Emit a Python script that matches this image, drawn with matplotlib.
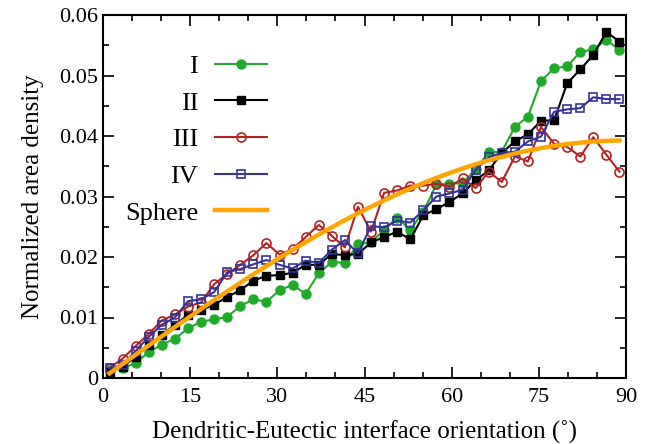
import matplotlib
matplotlib.use("Agg")
import matplotlib.pyplot as plt
from matplotlib.ticker import MultipleLocator, FuncFormatter

plt.rcParams['font.family'] = ['Liberation Serif', 'DejaVu Serif']
plt.rcParams['mathtext.fontset'] = 'stix'

# bin centres (degrees), 40 bins of 2.25 deg
theta = [1.125 + 2.25 * k for k in range(40)]

series_I = [0.0013, 0.0016, 0.0025, 0.0043, 0.0055, 0.0065, 0.0082, 0.0093, 0.0097, 0.0101,
            0.0119, 0.0130, 0.0126, 0.0145, 0.0154, 0.0139, 0.0173, 0.0192, 0.0190, 0.0221,
            0.0224, 0.0245, 0.0265, 0.0245, 0.0275, 0.0320, 0.0321, 0.0322, 0.0345, 0.0373,
            0.0374, 0.0415, 0.0432, 0.0491, 0.0512, 0.0515, 0.0539, 0.0543, 0.0559, 0.0542]
series_II = [0.0010, 0.0019, 0.0035, 0.0055, 0.0071, 0.0088, 0.0104, 0.0112, 0.0121, 0.0134,
             0.0145, 0.0161, 0.0169, 0.0170, 0.0174, 0.0187, 0.0187, 0.0205, 0.0203, 0.0205,
             0.0224, 0.0233, 0.0242, 0.0229, 0.0269, 0.0279, 0.0291, 0.0305, 0.0327, 0.0343,
             0.0372, 0.0391, 0.0403, 0.0425, 0.0426, 0.0487, 0.0510, 0.0534, 0.0572, 0.0556]
series_III = [0.0017, 0.0032, 0.0053, 0.0073, 0.0095, 0.0105, 0.0118, 0.0125, 0.0155, 0.0172,
              0.0187, 0.0203, 0.0223, 0.0204, 0.0213, 0.0233, 0.0253, 0.0235, 0.0216, 0.0283,
              0.0242, 0.0306, 0.0310, 0.0318, 0.0318, 0.0321, 0.0316, 0.0330, 0.0314, 0.0341,
              0.0324, 0.0366, 0.0358, 0.0415, 0.0387, 0.0382, 0.0366, 0.0398, 0.0369, 0.0341]
series_IV = [0.0016, 0.0022, 0.0045, 0.0068, 0.0088, 0.0100, 0.0127, 0.0130, 0.0142, 0.0175,
             0.0180, 0.0188, 0.0195, 0.0187, 0.0181, 0.0194, 0.0190, 0.0212, 0.0228, 0.0206,
             0.0251, 0.0249, 0.0260, 0.0257, 0.0277, 0.0300, 0.0305, 0.0311, 0.0344, 0.0365,
             0.0372, 0.0374, 0.0391, 0.0399, 0.0440, 0.0444, 0.0446, 0.0464, 0.0461, 0.0461]
sphere = [0.00077, 0.00231, 0.00385, 0.00538, 0.00690, 0.00842, 0.00992, 0.01140, 0.01287, 0.01431,
          0.01574, 0.01714, 0.01851, 0.01986, 0.02117, 0.02245, 0.02370, 0.02491, 0.02609, 0.02722,
          0.02831, 0.02935, 0.03036, 0.03131, 0.03222, 0.03307, 0.03388, 0.03463, 0.03533, 0.03598,
          0.03657, 0.03710, 0.03758, 0.03800, 0.03836, 0.03866, 0.03890, 0.03908, 0.03920, 0.03926]

labels = ["I", "II", "III", "IV", "Sphere"]

fig = plt.figure(figsize=(6.52, 4.44), dpi=100)
ax = fig.add_axes([103/652, 1 - 378/444, 523/652, 363/444])

ax.plot(theta, series_I, color='#1faa2a', lw=1.5, marker='o', ms=6.5, label=labels[0])
ax.plot(theta, series_II, color='black', lw=1.5, marker='s', ms=6.2, label=labels[1])
ax.plot(theta, series_III, color='#b22222', lw=1.5, marker='o', ms=6.5, mfc='none', mew=1.2, label=labels[2])
ax.plot(theta, series_IV, color='#333399', lw=1.5, marker='s', ms=6.0, mfc='none', mew=1.2, label=labels[3])
ax.plot(theta, sphere, color='#ffa500', lw=3.2, label=labels[4])

ax.set_xlim(0, 90)
ax.set_ylim(0, 0.06)
ax.xaxis.set_major_locator(MultipleLocator(15))
ax.xaxis.set_minor_locator(MultipleLocator(5))
ax.yaxis.set_major_locator(MultipleLocator(0.01))
ax.yaxis.set_minor_locator(MultipleLocator(0.005))
ax.yaxis.set_major_formatter(FuncFormatter(lambda v, p: '0' if abs(v) < 1e-12 else f'{v:.2f}'))
ax.xaxis.set_major_formatter(FuncFormatter(lambda v, p: f'{v:g}'))
ax.tick_params(which='both', direction='in', top=True, right=True, width=1.2, labelsize=16)
ax.tick_params(which='major', length=8)
ax.tick_params(which='minor', length=4.5)
ax.tick_params(axis='x', pad=7)
for s in ax.spines.values():
    s.set_linewidth(1.5)

ax.set_xlabel('Dendritic-Eutectic interface orientation (˚)', fontsize=18, labelpad=10)
ax.set_ylabel('Normalized area density', fontsize=18, labelpad=11)

leg = ax.legend(loc='upper left', bbox_to_anchor=(0.022, 0.92), frameon=False, markerfirst=False,
                fontsize=19, handlelength=1.95, handletextpad=0.65, labelspacing=0.5, borderaxespad=0)
try:
    leg._legend_box._children[-1]._children[0].align = 'right'
except Exception:
    pass

fig.savefig('out.png', dpi=100)
